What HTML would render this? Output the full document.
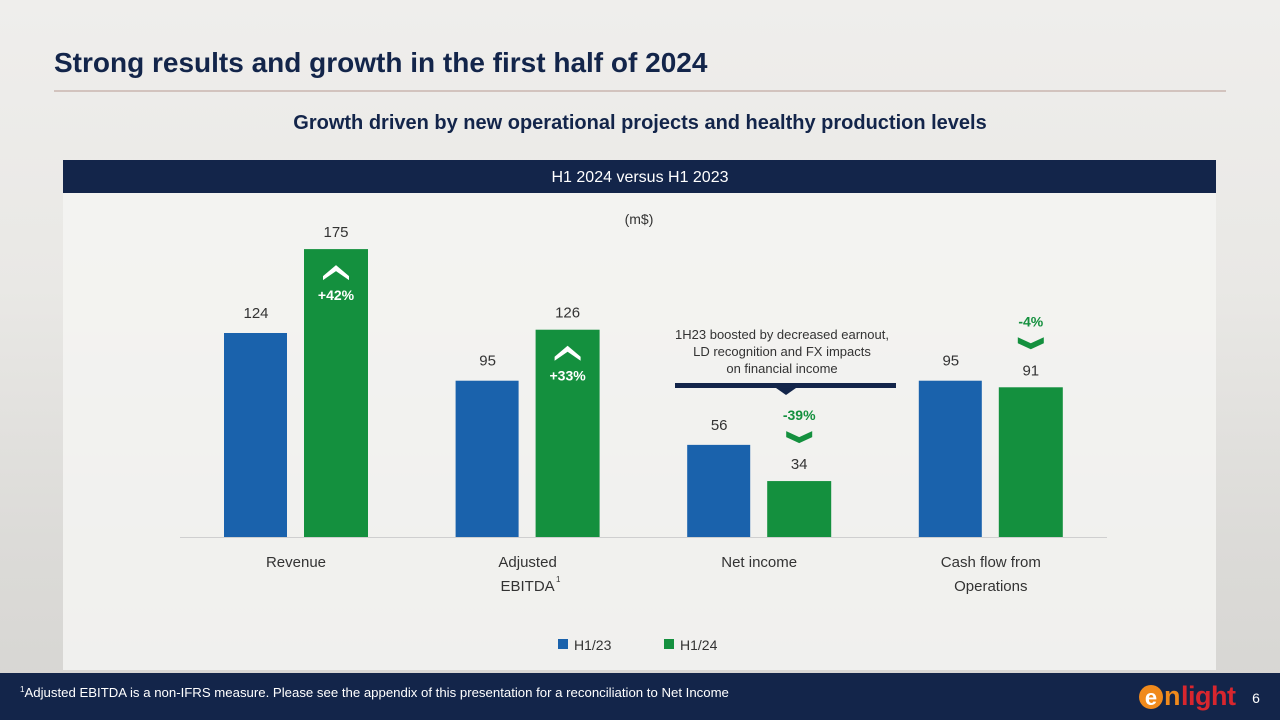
<!DOCTYPE html>
<html><head><meta charset="utf-8"><style>
body{margin:0;width:1280px;height:720px;overflow:hidden;font-family:"Liberation Sans",sans-serif;}
#bg{position:absolute;left:0;top:0;width:1280px;height:720px;background:linear-gradient(180deg,#efeeec 0%,#e9e8e5 40%,#dcdbd8 75%,#d6d5d2 100%);}
svg{position:absolute;left:0;top:0}
</style></head><body>
<div id="bg"></div>
<svg width="1280" height="720">
<text x="54" y="72" font-size="28" font-weight="bold" fill="#13254a">Strong results and growth in the first half of 2024</text>
<rect x="54" y="90.5" width="1172" height="1" fill="#b89a92"/>
<text x="640" y="129" font-size="20" font-weight="bold" fill="#13254a" text-anchor="middle">Growth driven by new operational projects and healthy production levels</text>
<rect x="63" y="192" width="1153" height="478" fill="#f4f4f2" fill-opacity="0.85"/>
<rect x="63" y="160" width="1153" height="33" fill="#13254a"/>
<text x="640" y="182" font-size="16" fill="#fff" text-anchor="middle">H1 2024 versus H1 2023</text>
<text x="639" y="224" font-size="14" fill="#333" text-anchor="middle">(m$)</text>
<g id="chart"></g>
<g>
<rect x="558" y="639" width="10" height="10" fill="#1a62ac"/>
<text x="574" y="650" font-size="14" fill="#333">H1/23</text>
<rect x="664" y="639" width="10" height="10" fill="#14903e"/>
<text x="680" y="650" font-size="14" fill="#333">H1/24</text>
</g>
<g>
<text x="782" y="339" font-size="13" fill="#333" text-anchor="middle">1H23 boosted by decreased earnout,</text>
<text x="782" y="356" font-size="13" fill="#333" text-anchor="middle">LD recognition and FX impacts</text>
<text x="782" y="373" font-size="13" fill="#333" text-anchor="middle">on financial income</text>
<rect x="675" y="383" width="221" height="5" fill="#13254a"/>
<polygon points="776,388 796,388 786,395" fill="#13254a"/>
</g>
<rect x="0" y="673" width="1280" height="47" fill="#13254a"/>
<text x="20" y="697" font-size="13.2" fill="#fff"><tspan font-size="8" dy="-5">1</tspan><tspan dy="5">Adjusted EBITDA is a non-IFRS measure. Please see the appendix of this presentation for a reconciliation to Net Income</tspan></text>
<g>
<circle cx="1151" cy="697" r="12" fill="#f08a1c"/>
<text x="1151" y="705" font-size="22" font-weight="bold" fill="#fff" text-anchor="middle">e</text>
<text x="1164" y="705" font-size="27" font-weight="bold" fill="#f08a1c">n</text>
<text x="1181" y="705" font-size="27" font-weight="bold" fill="#d8262e" letter-spacing="-0.5">light</text>
</g>
<text x="1256" y="703" font-size="14" fill="#fff" text-anchor="middle">6</text>
</svg>
<script>
const categories=["Revenue","Adjusted EBITDA","Net income","Cash flow from Operations"];
const catLines=[["Revenue"],["Adjusted","EBITDA"],["Net income"],["Cash flow from","Operations"]];
const h123=[124,95,56,95];
const h124=[175,126,34,91];
const changes=["+42%","+33%","-39%","-4%"];
const NS="http://www.w3.org/2000/svg";
const g=document.getElementById('chart');
const baseY=537, pxPer=204/124, x0=296, step=231.6;
function yS(v){return baseY-v*pxPer;}
function xC(i){return x0+i*step;}
function mk(t,a){const e=document.createElementNS(NS,t);for(const k in a)e.setAttribute(k,a[k]);g.appendChild(e);return e;}
const ax=mk('line',{x1:180,x2:1107,y1:baseY+0.5,y2:baseY+0.5,stroke:'#cfcfcf','stroke-width':1});


categories.forEach((c,i)=>{
  const cx=xC(i);
  const b1=mk('rect',{x:cx-72,y:yS(h123[i]),width:63,height:h123[i]*pxPer,fill:'#1a62ac'});
  
  
  const b2=mk('rect',{x:cx+8,y:yS(h124[i]),width:64,height:h124[i]*pxPer,fill:'#14903e'});
  
  
  const t1=mk('text',{x:cx-40,y:yS(h123[i])-15,'font-size':15,fill:'#333','text-anchor':'middle'});t1.textContent=h123[i];
  
  
  const t2=mk('text',{x:cx+40,y:yS(h124[i])-12,'font-size':15,fill:'#333','text-anchor':'middle'});t2.textContent=h124[i];
  
  
  catLines[i].forEach((ln,j)=>{
    const t=mk('text',{x:cx,y:567+j*24,'font-size':15,fill:'#333','text-anchor':'middle'});t.textContent=ln;
    
    
  });
  const up=h124[i]>=h123[i];
  const gx=cx+40;
  if(up){
    const top=yS(h124[i]);
    const p=mk('polygon',{points:`${gx-13},${top+27} ${gx},${top+16} ${gx+13},${top+27} ${gx+13},${top+31} ${gx},${top+22} ${gx-13},${top+31}`,fill:'#fff'});
    
    
    const t=mk('text',{x:gx,y:top+51,'font-size':14,'font-weight':'bold',fill:'#fff','text-anchor':'middle'});t.textContent=changes[i];
    
    
  }else{
    const top=yS(h124[i])-50;
    const p=mk('polygon',{points:`${gx-13},${top} ${gx},${top+6} ${gx+13},${top} ${gx+13},${top+6} ${gx},${top+12} ${gx-13},${top+6}`,fill:'#14903e'});
    
    
    const t=mk('text',{x:gx,y:top-11,'font-size':14,'font-weight':'bold',fill:'#14903e','text-anchor':'middle'});t.textContent=changes[i];
    
    
  }
});
const sup=mk('text',{x:556,y:582,'font-size':8,fill:'#333'});sup.textContent='1';


</script>
</body></html>
